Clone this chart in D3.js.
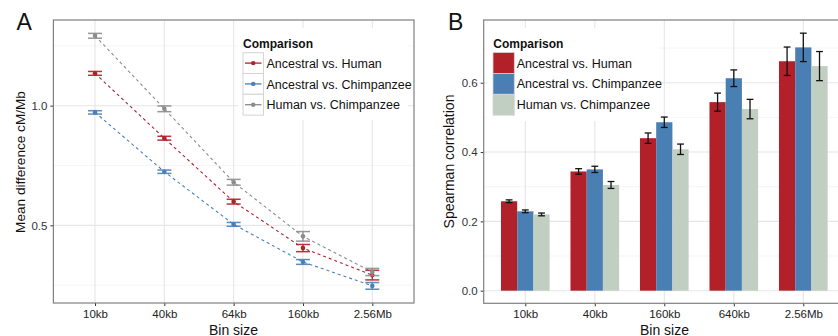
<!DOCTYPE html>
<html><head><meta charset="utf-8">
<script src="https://cdn.jsdelivr.net/npm/d3@7/dist/d3.min.js"></script>
<style>body{margin:0;background:#fff}svg{display:block;font-family:"Liberation Sans",Arial,sans-serif}</style>
</head><body><svg id="c" width="838" height="336"></svg>
<script>
const seriesNames = ["Ancestral vs. Human","Ancestral vs. Chimpanzee","Human vs. Chimpanzee"];
const lineColors = ["#B2202A","#4A80B6","#8C8C8C"];
const barColors = ["#B2202A","#4A7FB3","#C1CEC2"];

// Panel A
const binsA = ["10kb","40kb","64kb","160kb","2.56Mb"];
const meanAH = [1.135,0.864,0.599,0.405,0.292];
const meanAC = [0.972,0.724,0.504,0.347,0.247];
const meanHC = [1.292,0.987,0.680,0.454,0.305];
const errAH = [0.008,0.008,0.010,0.015,0.020];
const errAC = [0.007,0.007,0.008,0.010,0.014];
const errHC = [0.010,0.012,0.012,0.020,0.015];
const yTicksA = [0.5,1.0];

// Panel B
const binsB = ["10kb","40kb","160kb","640kb","2.56Mb"];
const corAH = [0.258,0.344,0.440,0.544,0.662];
const corAC = [0.229,0.350,0.486,0.613,0.702];
const corHC = [0.220,0.305,0.408,0.524,0.648];
const ciAH = [0.004,0.008,0.015,0.026,0.041];
const ciAC = [0.004,0.009,0.015,0.024,0.041];
const ciHC = [0.004,0.010,0.015,0.028,0.042];
const yTicksB = [0.0,0.2,0.4,0.6];

const svg = d3.select("#c");
const gridMajor = "#e6e6e6", gridMinor = "#f5f5f5", borderC = "#7f7f7f";
const FONT = "Liberation Sans, Arial, sans-serif";

function panelFrame(g, x, y, L, R, T, B, yTicks, minorTicks) {
  g.selectAll(".mn").data(minorTicks).join("line")
    .attr("x1",L).attr("x2",R).attr("y1",d=>y(d)).attr("y2",d=>y(d))
    .attr("stroke",gridMinor).attr("stroke-width",1);
  g.selectAll(".mjy").data(yTicks).join("line")
    .attr("x1",L).attr("x2",R).attr("y1",d=>y(d)).attr("y2",d=>y(d))
    .attr("stroke",gridMajor).attr("stroke-width",1.1);
  g.selectAll(".mjx").data(x.domain()).join("line")
    .attr("x1",d=>x(d)).attr("x2",d=>x(d)).attr("y1",T).attr("y2",B)
    .attr("stroke",gridMajor).attr("stroke-width",1.1);
}

function axes(g, x, y, L, R, T, B, yTicks) {
  const ax = g.append("g").attr("transform",`translate(0,${B})`)
    .call(d3.axisBottom(x).tickSize(3).tickPadding(4));
  ax.select(".domain").remove();
  ax.selectAll("line").attr("stroke","#333");
  ax.selectAll("text").attr("font-size",11.5).attr("fill","#222").attr("font-family",FONT);
  const ay = g.append("g").attr("transform",`translate(${L},0)`)
    .call(d3.axisLeft(y).tickValues(yTicks).tickFormat(d3.format(".1f")).tickSize(3).tickPadding(3));
  ay.select(".domain").remove();
  ay.selectAll("line").attr("stroke","#333");
  ay.selectAll("text").attr("font-size",11.5).attr("fill","#333").attr("font-family",FONT);
  g.append("rect").attr("x",L).attr("y",T).attr("width",R-L).attr("height",B-T)
    .attr("fill","none").attr("stroke",borderC).attr("stroke-width",1.2);
}

// ---------- Panel A ----------
{
  const L=53.4, R=414, T=20, B=303;
  const x = d3.scalePoint().domain(binsA).range([95,372.3]);
  const y = d3.scaleLinear().domain([0.1755,1.358]).range([B,T]);
  const g = svg.append("g");
  panelFrame(g,x,y,L,R,T,B,yTicksA,[0.25,0.75,1.25]);
  const series = [
    {m:meanAH,e:errAH,c:lineColors[0]},
    {m:meanAC,e:errAC,c:lineColors[1]},
    {m:meanHC,e:errHC,c:lineColors[2]}];
  const line = d3.line().x((d,i)=>x(binsA[i])).y(d=>y(d));
  series.forEach(s=>{
    g.append("path").attr("d",line(s.m)).attr("fill","none")
      .attr("stroke",s.c).attr("stroke-width",1.1).attr("stroke-dasharray","3,3");
  });
  series.forEach(s=>{
    const eg = g.append("g").attr("stroke",s.c).attr("stroke-width",1.5).attr("opacity",0.9);
    s.m.forEach((v,i)=>{
      const cx=x(binsA[i]);
      eg.append("line").attr("x1",cx).attr("x2",cx).attr("y1",y(v-s.e[i])).attr("y2",y(v+s.e[i]));
      eg.append("line").attr("x1",cx-7).attr("x2",cx+7).attr("y1",y(v-s.e[i])).attr("y2",y(v-s.e[i]));
      eg.append("line").attr("x1",cx-7).attr("x2",cx+7).attr("y1",y(v+s.e[i])).attr("y2",y(v+s.e[i]));
    });
    g.selectAll(null).data(s.m).join("circle")
      .attr("cx",(d,i)=>x(binsA[i])).attr("cy",d=>y(d)).attr("r",2.3).attr("fill",s.c);
  });
  const lg = g.append("g");
  lg.append("rect").attr("x",238).attr("y",28).attr("width",170).attr("height",92).attr("fill","#fff");
  lg.append("text").attr("x",243).attr("y",48).attr("font-size",12).attr("font-weight","bold").attr("fill","#111").text("Comparison");
  seriesNames.forEach((n,i)=>{
    const ky = 52.7 + i*20.8;
    lg.append("rect").attr("x",243).attr("y",ky).attr("width",20.5).attr("height",20.8)
      .attr("fill","#fff").attr("stroke","#d4d4d4").attr("stroke-width",1);
    lg.append("line").attr("x1",245).attr("x2",261.5).attr("y1",ky+10.4).attr("y2",ky+10.4)
      .attr("stroke",lineColors[i]).attr("stroke-width",1.3);
    lg.append("circle").attr("cx",253.2).attr("cy",ky+10.4).attr("r",2.2).attr("fill",lineColors[i]);
    lg.append("text").attr("x",266.5).attr("y",ky+15).attr("font-size",12.5).attr("fill","#111").text(n);
  });
  axes(g,x,y,L,R,T,B,yTicksA);
  g.append("text").attr("x",16.5).attr("y",30).attr("font-size",23).attr("fill","#111").text("A");
  g.append("text").attr("transform",`translate(25,162) rotate(-90)`).attr("text-anchor","middle")
    .attr("font-size",13.6).attr("fill","#111").text("Mean difference cM/Mb");
  g.append("text").attr("x",233.5).attr("y",334.5).attr("text-anchor","middle")
    .attr("font-size",14).attr("fill","#111").text("Bin size");
}

// ---------- Panel B ----------
{
  const L=483.7, R=845, T=20, B=303.3;
  const xp = d3.scalePoint().domain(binsB).range([525.3,803.3]);
  const step = xp.step();
  const inner = d3.scaleBand().domain([0,1,2]).range([-0.35*step,0.35*step]);
  const y = d3.scaleLinear().domain([-0.0364,0.781]).range([B,T]);
  const g = svg.append("g");
  panelFrame(g,xp,y,L,R,T,B,yTicksB,[0.1,0.3,0.5,0.7]);
  const vals=[corAH,corAC,corHC], errs=[ciAH,ciAC,ciHC];
  vals.forEach((arr,si)=>{
    g.selectAll(null).data(arr).join("rect")
      .attr("x",(d,i)=>xp(binsB[i])+inner(si)).attr("width",inner.bandwidth())
      .attr("y",d=>y(d)).attr("height",d=>y(0)-y(d)).attr("fill",barColors[si]);
  });
  vals.forEach((arr,si)=>{
    const eg=g.append("g").attr("stroke","#111").attr("stroke-width",1.3);
    arr.forEach((v,i)=>{
      const cx=xp(binsB[i])+inner(si)+inner.bandwidth()/2;
      const e=errs[si][i];
      eg.append("line").attr("x1",cx).attr("x2",cx).attr("y1",y(v-e)).attr("y2",y(v+e));
      eg.append("line").attr("x1",cx-3.4).attr("x2",cx+3.4).attr("y1",y(v-e)).attr("y2",y(v-e));
      eg.append("line").attr("x1",cx-3.4).attr("x2",cx+3.4).attr("y1",y(v+e)).attr("y2",y(v+e));
    });
  });
  const lg=g.append("g");
  lg.append("rect").attr("x",487).attr("y",28).attr("width",172).attr("height",93).attr("fill","#fff");
  lg.append("text").attr("x",493.3).attr("y",48).attr("font-size",12).attr("font-weight","bold").attr("fill","#111").text("Comparison");
  seriesNames.forEach((n,i)=>{
    const ky=52.5+i*20.9;
    lg.append("rect").attr("x",493).attr("y",ky).attr("width",21.3).attr("height",20.9)
      .attr("fill",barColors[i]).attr("stroke","#d4d4d4").attr("stroke-width",0.8);
    lg.append("text").attr("x",516.7).attr("y",ky+15).attr("font-size",12.5).attr("fill","#111").text(n);
  });
  axes(g,xp,y,L,R,T,B,yTicksB);
  g.append("text").attr("x",448).attr("y",30).attr("font-size",23).attr("fill","#111").text("B");
  g.append("text").attr("transform",`translate(453.5,161.5) rotate(-90)`).attr("text-anchor","middle")
    .attr("font-size",14).attr("fill","#111").text("Spearman correlation");
  g.append("text").attr("x",664.5).attr("y",334.5).attr("text-anchor","middle")
    .attr("font-size",14).attr("fill","#111").text("Bin size");
}
</script></body></html>
